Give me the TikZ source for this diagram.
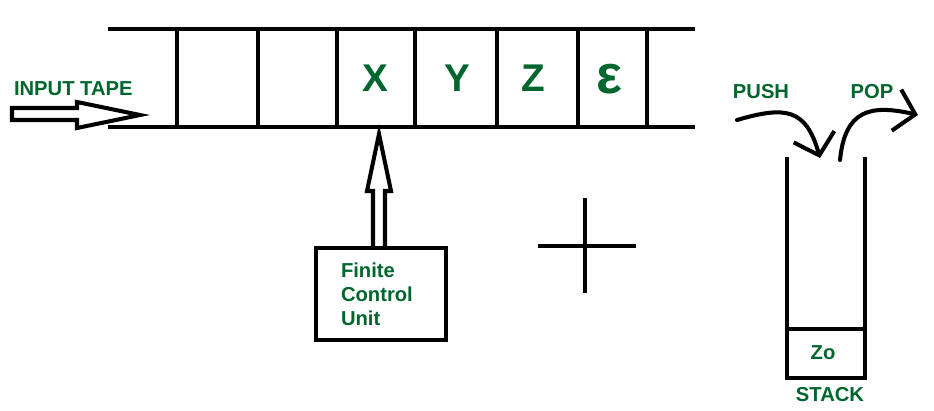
\documentclass[tikz,border=0pt]{standalone}
\usepackage{fontspec}
\setmainfont{Liberation Sans}
\usetikzlibrary{arrows.meta}
\definecolor{labelgreen}{RGB}{0,102,45}
\tikzset{
  heavy/.style={line width=2.3pt},
  lbl/.style={text=labelgreen, font=\bfseries\fontsize{11.5}{13.6}\selectfont, inner sep=0pt},
  sym/.style={text=labelgreen, font=\bfseries\fontsize{22}{24}\selectfont},
  stackarrow/.style={line cap=round, -{Straight Barb[length=11pt,width=24pt]}},
}
\begin{document}
\begin{tikzpicture}[x=0.02cm, y=-0.02cm, heavy]
  \useasboundingbox (0,0) rectangle (934,410);
  % tape
  \draw (108,29) -- (695,29) (108,127) -- (695,127);
  \foreach \x in {177,258,337,415,497,578,647}
    \draw (\x,29) -- (\x,127);
  \foreach \x/\s/\nm in {375/X/x, 457/Y/y, 533/Z/z}
    \node[sym] (\nm) at (\x,78) {\s};
  \node[sym, font=\bfseries\fontsize{31}{31}\selectfont] (eps) at (609,79) {ε};
  \node[lbl, anchor=west] (intape) at (12,89) {INPUT TAPE};
  \draw (12,108) -- (77,108) -- (77,102) -- (140,115) -- (77,128)
    -- (77,120) -- (12,120) -- cycle;
  % finite control
  \node[draw, lbl, align=left, text width=1.6cm, inner xsep=0.5cm,
    minimum height=1.84cm] (fcu) at (381,294) {Finite\\Control\\Unit};
  \draw[shift={(fcu.north)}] (-8,0) -- (-8,-55) -- (-14,-55) -- (-2,-112)
    -- (10,-55) -- (4,-55) -- (4,0);
  % plus
  \draw (538,246) -- (636,246) (585,198) -- (585,293);
  % stack
  \draw (787,157) -- (787,378) -- (865,378) -- (865,157);
  \draw (787,329) -- (866,329);
  \node[lbl] (zo) at (823,353) {Zo};
  \node[lbl] (stack) at (830,395) {STACK};
  \node[lbl] (push) at (761,92) {PUSH};
  \node[lbl] (pop) at (872,92) {POP};
  \draw[stackarrow] (737,120) .. controls (785,106) and (806,108) .. (820,158);
  \draw[stackarrow] (840,160) .. controls (845,110) and (870,104) .. (918,115);
\end{tikzpicture}
\end{document}
